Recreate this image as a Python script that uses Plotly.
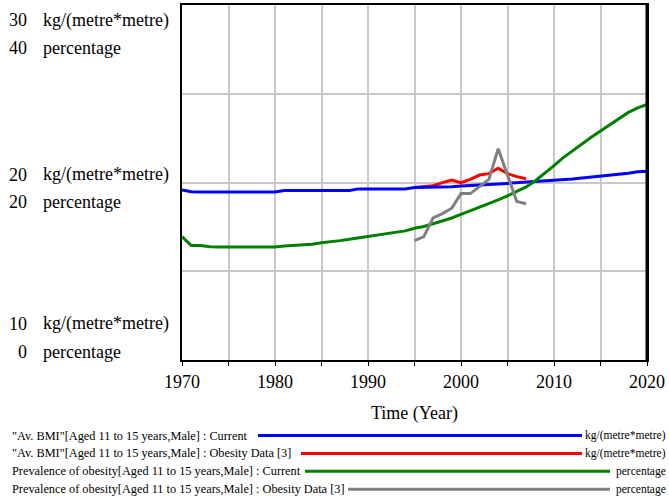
import plotly.graph_objects as go

years = list(range(1970, 2021))
bmi_current = [19.58, 19.48] + [19.47] * 9 + [19.55] * 8 + [19.64] * 6 + [19.72] * 4 + [
    19.76, 19.8, 19.82, 19.85, 19.88, 19.92, 19.95, 19.98, 20.02, 20.05, 20.08,
    20.12, 20.17, 20.2, 20.25, 20.3, 20.35, 20.4, 20.45, 20.52, 20.6, 20.64]
obesity_current = [13.9, 12.9, 12.9, 12.75, 12.72, 12.72, 12.72, 12.72, 12.72, 12.72, 12.72,
                   12.85, 12.9, 13.0, 13.05, 13.2, 13.3, 13.45, 13.6, 13.75, 13.9,
                   14.05, 14.2, 14.35, 14.55, 14.85, 15.05, 15.35, 15.65, 16.0, 16.4,
                   16.8, 17.25, 17.65, 18.05, 18.5, 19.0, 19.5, 20.2, 21.0, 21.9,
                   22.8, 23.6, 24.3, 25.1, 25.8, 26.5, 27.2, 27.9, 28.4, 28.8]
data_years = list(range(1995, 2008))
bmi_data = [19.72, 19.75, 19.82, 19.99, 20.14, 19.99, 20.18, 20.42, 20.5, 20.8, 20.5, 20.33, 20.21]
obesity_data = [13.45, 13.9, 16.0, 16.5, 17.1, 18.75, 18.75, 19.6, 20.35, 23.8, 20.7, 17.85, 17.6]

x_ticks = list(range(1970, 2021, 5))
x_ticktext = [str(v) if v % 10 == 0 else "" for v in x_ticks]

series_names = [
    '"Av. BMI"[Aged 11 to 15 years,Male] : Current',
    '"Av. BMI"[Aged 11 to 15 years,Male] : Obesity Data [3]',
    'Prevalence of obesity[Aged 11 to 15 years,Male] : Current',
    'Prevalence of obesity[Aged 11 to 15 years,Male] : Obesity Data [3]',
]
series_units = ["kg/(metre*metre)", "kg/(metre*metre)", "percentage", "percentage"]
colors = ["#0000ff", "#ff0000", "#008000", "#808080"]

W, H = 669, 501
L, R, T, B = 182, 22, 3, 141
PW, PH = W - L - R, H - T - B
FONT = "Liberation Serif, Times New Roman, serif"


def px(x):
    return (x - L) / PW


def py(y):
    return (H - B - y) / PH


fig = go.Figure()
fig.add_trace(go.Scatter(x=years, y=obesity_current, yaxis="y2", mode="lines",
                         line=dict(color=colors[2], width=3), showlegend=False))
fig.add_trace(go.Scatter(x=data_years, y=obesity_data, yaxis="y2", mode="lines",
                         line=dict(color=colors[3], width=3), showlegend=False))
fig.add_trace(go.Scatter(x=data_years, y=bmi_data, yaxis="y", mode="lines",
                         line=dict(color=colors[1], width=3), showlegend=False))
fig.add_trace(go.Scatter(x=years, y=bmi_current, yaxis="y", mode="lines",
                         line=dict(color=colors[0], width=3), showlegend=False))

annotations = []
shapes = []
# left axis labels
left_labels = [("30", "kg/(metre*metre)", 18.5), ("40", "percentage", 46.5),
               ("20", "kg/(metre*metre)", 173.5), ("20", "percentage", 201.5),
               ("10", "kg/(metre*metre)", 323.5), ("0", "percentage", 351.5)]
for num, unit, yy in left_labels:
    annotations.append(dict(x=px(29), y=py(yy), xref="paper", yref="paper", text=num,
                            showarrow=False, xanchor="right", yanchor="middle",
                            font=dict(family=FONT, size=18, color="black")))
    annotations.append(dict(x=px(41), y=py(yy), xref="paper", yref="paper", text=unit,
                            showarrow=False, xanchor="left", yanchor="middle",
                            font=dict(family=FONT, size=18, color="black")))

# legend rows
row_y = [436, 454, 472, 490]
line_start = [258, 301, 305, 348]
line_end = [582, 582, 610, 610]
for i in range(4):
    annotations.append(dict(x=px(10), y=py(row_y[i]), xref="paper", yref="paper",
                            text=series_names[i], showarrow=False, xanchor="left",
                            yanchor="middle", font=dict(family=FONT, size=12.3, color="black")))
    annotations.append(dict(x=px(668), y=py(row_y[i]), xref="paper", yref="paper",
                            text=series_units[i], showarrow=False, xanchor="right",
                            yanchor="middle", font=dict(family=FONT, size=11.5, color="black")))
    shapes.append(dict(type="line", xref="paper", yref="paper",
                       x0=px(line_start[i]), x1=px(line_end[i]),
                       y0=py(row_y[i]), y1=py(row_y[i]),
                       line=dict(color=colors[i], width=3)))

# thicker right border
shapes.append(dict(type="line", xref="paper", yref="paper", x0=1, x1=1, y0=0, y1=1,
                   line=dict(color="black", width=3)))

fig.update_layout(
    width=W, height=H,
    margin=dict(l=L, r=R, t=T, b=B, pad=0),
    paper_bgcolor="white", plot_bgcolor="white",
    font=dict(family=FONT, size=18, color="black"),
    xaxis=dict(range=[1970, 2020], tickvals=x_ticks, ticktext=x_ticktext,
               showgrid=True, gridcolor="#c8c8c8", gridwidth=2,
               showline=True, linecolor="black", linewidth=2, mirror=True,
               ticks="outside", ticklen=4, tickcolor="black", tickwidth=1,
               tickfont=dict(family=FONT, size=18),
               title=dict(text="Time (Year)", font=dict(family=FONT, size=18), standoff=16),
               zeroline=False),
    yaxis=dict(range=[10, 30], dtick=5, showticklabels=False,
               showgrid=True, gridcolor="#c8c8c8", gridwidth=2,
               showline=True, linecolor="black", linewidth=2, mirror=True,
               ticks="", zeroline=False),
    yaxis2=dict(range=[0, 40], overlaying="y", showticklabels=False, showgrid=False,
                showline=False, ticks="", zeroline=False),
    annotations=annotations,
    shapes=shapes,
    showlegend=False,
)

fig.write_html("out.html", config={"displayModeBar": False},
               post_script="document.body.style.margin='0';document.body.style.padding='0';document.body.style.overflow='hidden';")
